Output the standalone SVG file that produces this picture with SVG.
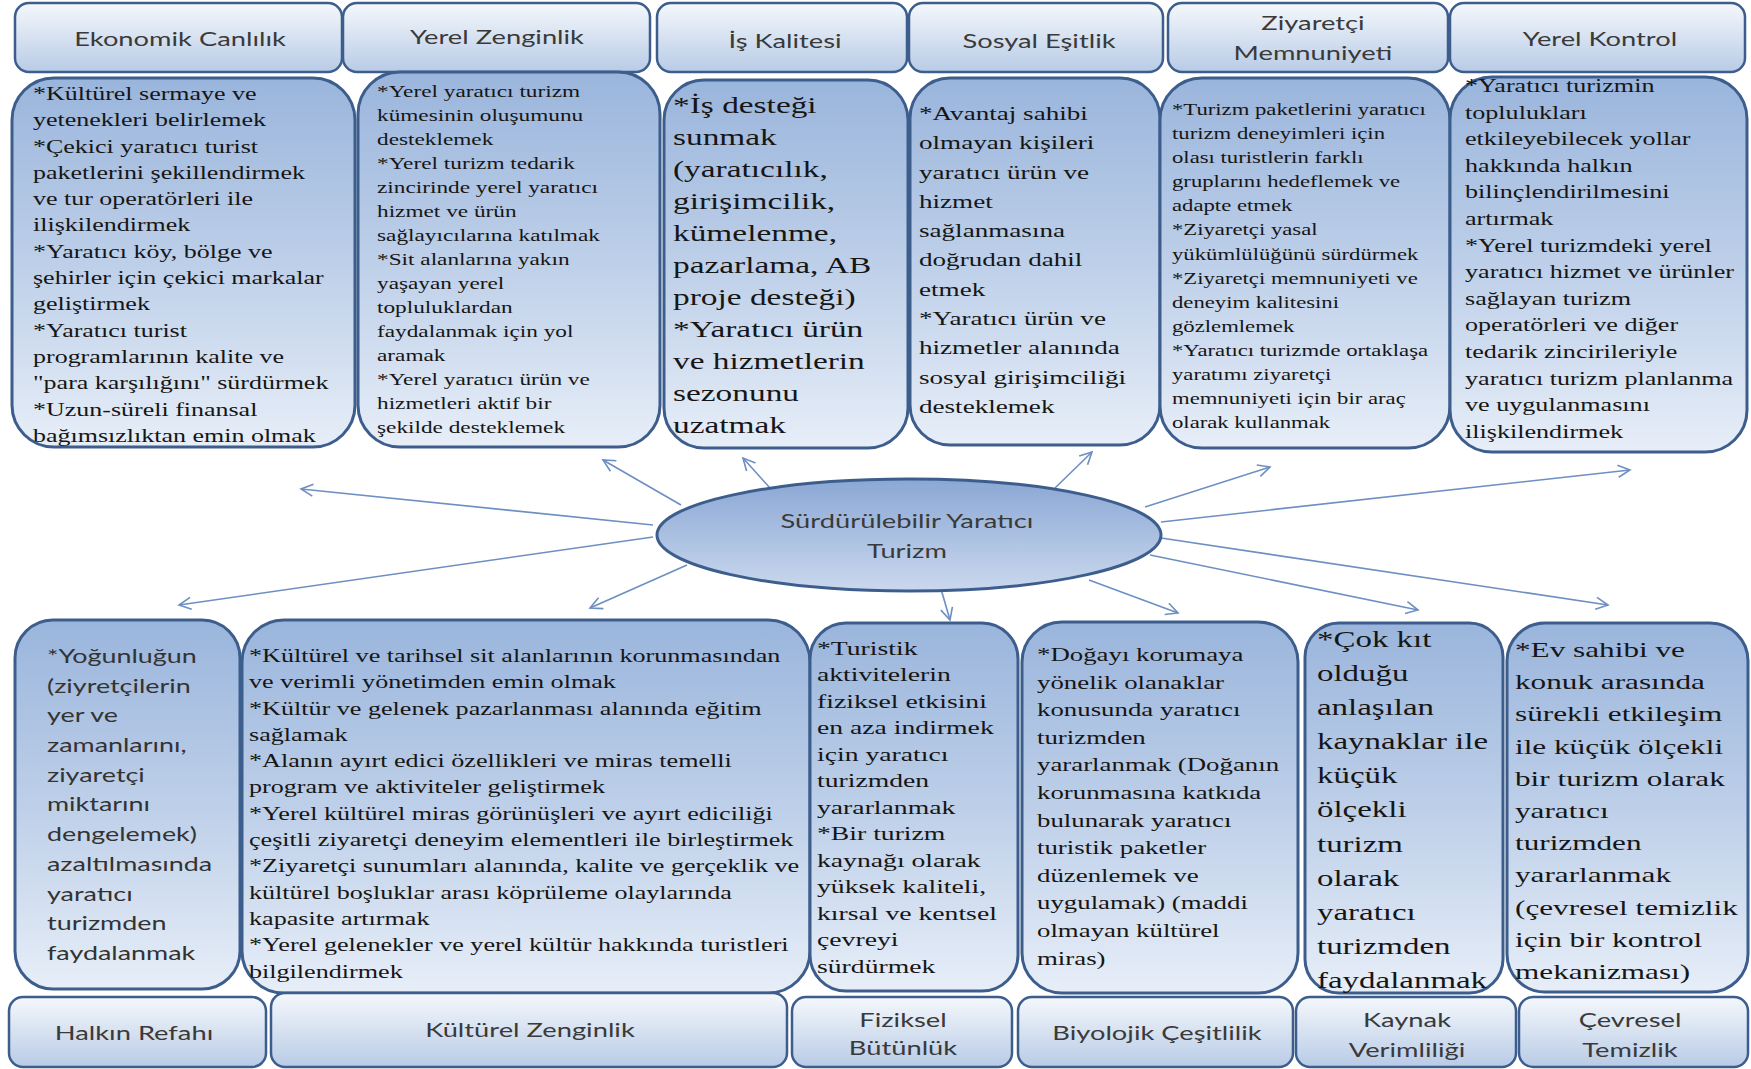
<svg xmlns="http://www.w3.org/2000/svg" width="1751" height="1069" viewBox="0 0 1751 1069">
  <defs>
    <linearGradient id="gBox" x1="0" y1="0" x2="0" y2="1">
      <stop offset="0" stop-color="#9ab5dc"/>
      <stop offset="0.55" stop-color="#c1d2ea"/>
      <stop offset="1" stop-color="#e7eef8"/>
    </linearGradient>
    <linearGradient id="gHead" x1="0" y1="0" x2="0" y2="1">
      <stop offset="0" stop-color="#f5f8fc"/>
      <stop offset="1" stop-color="#b8cbe6"/>
    </linearGradient>
    <linearGradient id="gEll" x1="0" y1="0" x2="0" y2="1">
      <stop offset="0" stop-color="#8aa7d4"/>
      <stop offset="1" stop-color="#cad8ee"/>
    </linearGradient>
    <marker id="arr" markerUnits="userSpaceOnUse" markerWidth="16" markerHeight="16" viewBox="0 0 16 16" refX="14" refY="8" orient="auto">
      <path d="M2,2 L14,8 L2,14" fill="none" stroke="#6d8fc2" stroke-width="1.6"/>
    </marker>
  </defs>
  <style>
    .box { fill: url(#gBox); stroke: #3d5e8c; stroke-width: 3; }
    .head { fill: url(#gHead); stroke: #3d5e8c; stroke-width: 2.5; }
    .ell { fill: url(#gEll); stroke: #3d5e8c; stroke-width: 3; }
    .ht { font-family: Lato, "Liberation Sans", sans-serif; font-size: 19.5px; fill: #3a3a3a; text-anchor: middle; }
    .tb { font-family: "Liberation Serif", "Times New Roman", serif; fill: #161616; }
    .ts { font-family: Lato, "Liberation Sans", sans-serif; fill: #333; }
    .conn line { stroke: #6d8fc2; stroke-width: 1.6; marker-end: url(#arr); }
  </style>
  <rect width="1751" height="1069" fill="#ffffff"/>

  <!-- spokes from the centre ellipse -->
  <g id="connectors" class="conn">
    <line x1="653" y1="525" x2="301" y2="489"/>
    <line x1="681" y1="505" x2="603" y2="460"/>
    <line x1="770" y1="488" x2="743" y2="458"/>
    <line x1="1055" y1="488" x2="1092" y2="452"/>
    <line x1="1145" y1="507" x2="1270" y2="467"/>
    <line x1="1161" y1="522" x2="1630" y2="470"/>
    <line x1="653" y1="537" x2="179" y2="605"/>
    <line x1="687" y1="565" x2="590" y2="608"/>
    <line x1="941" y1="589" x2="950" y2="620"/>
    <line x1="1089" y1="580" x2="1178" y2="613"/>
    <line x1="1150" y1="555" x2="1418" y2="610"/>
    <line x1="1161" y1="538" x2="1608" y2="605"/>
  </g>

  <g id="center">
    <ellipse class="ell" cx="909" cy="535" rx="252" ry="56"/>
    <text class="ht" font-size="20" transform="translate(907,528) scale(1.4,1)"><tspan x="0" y="0">Sürdürülebilir Yaratıcı</tspan><tspan x="0" dy="30">Turizm</tspan></text>
  </g>

  <!-- top row: headers -->
  <g id="h-ekonomik">
    <rect class="head" x="15" y="3" width="327" height="69" rx="14"/>
    <text class="ht" transform="translate(180,46) scale(1.4,1)">Ekonomik Canlılık</text>
  </g>
  <g id="h-yerel-zenginlik">
    <rect class="head" x="343" y="3" width="307" height="69" rx="14"/>
    <text class="ht" transform="translate(497,44) scale(1.4,1)">Yerel Zenginlik</text>
  </g>
  <g id="h-is-kalitesi">
    <rect class="head" x="657" y="3" width="250" height="69" rx="14"/>
    <text class="ht" transform="translate(785,48) scale(1.4,1)">İş Kalitesi</text>
  </g>
  <g id="h-sosyal">
    <rect class="head" x="909" y="3" width="254" height="69" rx="14"/>
    <text class="ht" transform="translate(1039,48) scale(1.4,1)">Sosyal Eşitlik</text>
  </g>
  <g id="h-ziyaretci">
    <rect class="head" x="1168" y="3" width="280" height="69" rx="14"/>
    <text class="ht" transform="translate(1313,30) scale(1.4,1)"><tspan x="0" y="0">Ziyaretçi</tspan><tspan x="0" dy="30">Memnuniyeti</tspan></text>
  </g>
  <g id="h-yerel-kontrol">
    <rect class="head" x="1450" y="3" width="295" height="69" rx="14"/>
    <text class="ht" transform="translate(1600,46) scale(1.4,1)">Yerel Kontrol</text>
  </g>

  <!-- top row: content boxes -->
  <g id="c-ekonomik">
    <rect class="box" x="12" y="78" width="343" height="369" rx="42"/>
    <text class="tb" font-size="18.3" transform="translate(33,100) scale(1.42,1)">
      <tspan x="0" y="0">*Kültürel sermaye ve</tspan>
      <tspan x="0" dy="26.3">yetenekleri belirlemek</tspan>
      <tspan x="0" dy="26.3">*Çekici yaratıcı turist</tspan>
      <tspan x="0" dy="26.3">paketlerini şekillendirmek</tspan>
      <tspan x="0" dy="26.3">ve tur operatörleri ile</tspan>
      <tspan x="0" dy="26.3">ilişkilendirmek</tspan>
      <tspan x="0" dy="26.3">*Yaratıcı köy, bölge ve</tspan>
      <tspan x="0" dy="26.3">şehirler için çekici markalar</tspan>
      <tspan x="0" dy="26.3">geliştirmek</tspan>
      <tspan x="0" dy="26.3">*Yaratıcı turist</tspan>
      <tspan x="0" dy="26.3">programlarının kalite ve</tspan>
      <tspan x="0" dy="26.3">"para karşılığını" sürdürmek</tspan>
      <tspan x="0" dy="26.3">*Uzun-süreli finansal</tspan>
      <tspan x="0" dy="26.3">bağımsızlıktan emin olmak</tspan>
    </text>
  </g>
  <g id="c-yerel-zenginlik">
    <rect class="box" x="358" y="72" width="302" height="375" rx="42"/>
    <text class="tb" font-size="16.4" transform="translate(377,97) scale(1.42,1)">
      <tspan x="0" y="0">*Yerel yaratıcı turizm</tspan>
      <tspan x="0" dy="24">kümesinin oluşumunu</tspan>
      <tspan x="0" dy="24">desteklemek</tspan>
      <tspan x="0" dy="24">*Yerel turizm tedarik</tspan>
      <tspan x="0" dy="24">zincirinde yerel yaratıcı</tspan>
      <tspan x="0" dy="24">hizmet ve ürün</tspan>
      <tspan x="0" dy="24">sağlayıcılarına katılmak</tspan>
      <tspan x="0" dy="24">*Sit alanlarına yakın</tspan>
      <tspan x="0" dy="24">yaşayan yerel</tspan>
      <tspan x="0" dy="24">topluluklardan</tspan>
      <tspan x="0" dy="24">faydalanmak için yol</tspan>
      <tspan x="0" dy="24">aramak</tspan>
      <tspan x="0" dy="24">*Yerel yaratıcı ürün ve</tspan>
      <tspan x="0" dy="24">hizmetleri aktif bir</tspan>
      <tspan x="0" dy="24">şekilde desteklemek</tspan>
    </text>
  </g>
  <g id="c-is-kalitesi">
    <rect class="box" x="664" y="80" width="244" height="368" rx="40"/>
    <text class="tb" font-size="23.5" transform="translate(673,113) scale(1.42,1)">
      <tspan x="0" y="0">*İş desteği</tspan>
      <tspan x="0" dy="32">sunmak</tspan>
      <tspan x="0" dy="32">(yaratıcılık,</tspan>
      <tspan x="0" dy="32">girişimcilik,</tspan>
      <tspan x="0" dy="32">kümelenme,</tspan>
      <tspan x="0" dy="32">pazarlama, AB</tspan>
      <tspan x="0" dy="32">proje desteği)</tspan>
      <tspan x="0" dy="32">*Yaratıcı ürün</tspan>
      <tspan x="0" dy="32">ve hizmetlerin</tspan>
      <tspan x="0" dy="32">sezonunu</tspan>
      <tspan x="0" dy="32">uzatmak</tspan>
    </text>
  </g>
  <g id="c-sosyal">
    <rect class="box" x="910" y="78" width="250" height="367" rx="40"/>
    <text class="tb" font-size="19.1" transform="translate(919,120) scale(1.42,1)">
      <tspan x="0" y="0">*Avantaj sahibi</tspan>
      <tspan x="0" dy="29.3">olmayan kişileri</tspan>
      <tspan x="0" dy="29.3">yaratıcı ürün ve</tspan>
      <tspan x="0" dy="29.3">hizmet</tspan>
      <tspan x="0" dy="29.3">sağlanmasına</tspan>
      <tspan x="0" dy="29.3">doğrudan dahil</tspan>
      <tspan x="0" dy="29.3">etmek</tspan>
      <tspan x="0" dy="29.3">*Yaratıcı ürün ve</tspan>
      <tspan x="0" dy="29.3">hizmetler alanında</tspan>
      <tspan x="0" dy="29.3">sosyal girişimciliği</tspan>
      <tspan x="0" dy="29.3">desteklemek</tspan>
    </text>
  </g>
  <g id="c-ziyaretci">
    <rect class="box" x="1160" y="78" width="290" height="370" rx="42"/>
    <text class="tb" font-size="16" transform="translate(1172,115) scale(1.42,1)">
      <tspan x="0" y="0">*Turizm paketlerini yaratıcı</tspan>
      <tspan x="0" dy="24.1">turizm deneyimleri için</tspan>
      <tspan x="0" dy="24.1">olası turistlerin farklı</tspan>
      <tspan x="0" dy="24.1">gruplarını hedeflemek ve</tspan>
      <tspan x="0" dy="24.1">adapte etmek</tspan>
      <tspan x="0" dy="24.1">*Ziyaretçi yasal</tspan>
      <tspan x="0" dy="24.1">yükümlülüğünü sürdürmek</tspan>
      <tspan x="0" dy="24.1">*Ziyaretçi memnuniyeti ve</tspan>
      <tspan x="0" dy="24.1">deneyim kalitesini</tspan>
      <tspan x="0" dy="24.1">gözlemlemek</tspan>
      <tspan x="0" dy="24.1">*Yaratıcı turizmde ortaklaşa</tspan>
      <tspan x="0" dy="24.1">yaratımı ziyaretçi</tspan>
      <tspan x="0" dy="24.1">memnuniyeti için bir araç</tspan>
      <tspan x="0" dy="24.1">olarak kullanmak</tspan>
    </text>
  </g>
  <g id="c-yerel-kontrol">
    <rect class="box" x="1450" y="77" width="297" height="375" rx="42"/>
    <text class="tb" font-size="18.4" transform="translate(1465,92) scale(1.42,1)">
      <tspan x="0" y="0">*Yaratıcı turizmin</tspan>
      <tspan x="0" dy="26.6">toplulukları</tspan>
      <tspan x="0" dy="26.6">etkileyebilecek yollar</tspan>
      <tspan x="0" dy="26.6">hakkında halkın</tspan>
      <tspan x="0" dy="26.6">bilinçlendirilmesini</tspan>
      <tspan x="0" dy="26.6">artırmak</tspan>
      <tspan x="0" dy="26.6">*Yerel turizmdeki yerel</tspan>
      <tspan x="0" dy="26.6">yaratıcı hizmet ve ürünler</tspan>
      <tspan x="0" dy="26.6">sağlayan turizm</tspan>
      <tspan x="0" dy="26.6">operatörleri ve diğer</tspan>
      <tspan x="0" dy="26.6">tedarik zincirileriyle</tspan>
      <tspan x="0" dy="26.6">yaratıcı turizm planlanma</tspan>
      <tspan x="0" dy="26.6">ve uygulanmasını</tspan>
      <tspan x="0" dy="26.6">ilişkilendirmek</tspan>
    </text>
  </g>

  <!-- bottom row: content boxes -->
  <g id="c-halkin">
    <rect class="box" x="15" y="620" width="225" height="369" rx="38"/>
    <text class="ts" font-size="19.5" transform="translate(47,663) scale(1.38,1)">
      <tspan x="0" y="0">*Yoğunluğun</tspan>
      <tspan x="0" dy="29.7">(ziyretçilerin</tspan>
      <tspan x="0" dy="29.7">yer ve</tspan>
      <tspan x="0" dy="29.7">zamanlarını,</tspan>
      <tspan x="0" dy="29.7">ziyaretçi</tspan>
      <tspan x="0" dy="29.7">miktarını</tspan>
      <tspan x="0" dy="29.7">dengelemek)</tspan>
      <tspan x="0" dy="29.7">azaltılmasında</tspan>
      <tspan x="0" dy="29.7">yaratıcı</tspan>
      <tspan x="0" dy="29.7">turizmden</tspan>
      <tspan x="0" dy="29.7">faydalanmak</tspan>
    </text>
  </g>
  <g id="c-kulturel">
    <rect class="box" x="242" y="620" width="568" height="373" rx="42"/>
    <text class="tb" font-size="18.4" transform="translate(249,662) scale(1.42,1)">
      <tspan x="0" y="0">*Kültürel ve tarihsel sit alanlarının korunmasından</tspan>
      <tspan x="0" dy="26.3">ve verimli yönetimden emin olmak</tspan>
      <tspan x="0" dy="26.3">*Kültür ve gelenek pazarlanması alanında eğitim</tspan>
      <tspan x="0" dy="26.3">sağlamak</tspan>
      <tspan x="0" dy="26.3">*Alanın ayırt edici özellikleri ve miras temelli</tspan>
      <tspan x="0" dy="26.3">program ve aktiviteler geliştirmek</tspan>
      <tspan x="0" dy="26.3">*Yerel kültürel miras görünüşleri ve ayırt ediciliği</tspan>
      <tspan x="0" dy="26.3">çeşitli ziyaretçi deneyim elementleri ile birleştirmek</tspan>
      <tspan x="0" dy="26.3">*Ziyaretçi sunumları alanında, kalite ve gerçeklik ve</tspan>
      <tspan x="0" dy="26.3">kültürel boşluklar arası köprüleme olaylarında</tspan>
      <tspan x="0" dy="26.3">kapasite artırmak</tspan>
      <tspan x="0" dy="26.3">*Yerel gelenekler ve yerel kültür hakkında turistleri</tspan>
      <tspan x="0" dy="26.3">bilgilendirmek</tspan>
    </text>
  </g>
  <g id="c-fiziksel">
    <rect class="box" x="810" y="623" width="208" height="368" rx="36"/>
    <text class="tb" font-size="19.5" transform="translate(817,655) scale(1.42,1)">
      <tspan x="0" y="0">*Turistik</tspan>
      <tspan x="0" dy="26.5">aktivitelerin</tspan>
      <tspan x="0" dy="26.5">fiziksel etkisini</tspan>
      <tspan x="0" dy="26.5">en aza indirmek</tspan>
      <tspan x="0" dy="26.5">için yaratıcı</tspan>
      <tspan x="0" dy="26.5">turizmden</tspan>
      <tspan x="0" dy="26.5">yararlanmak</tspan>
      <tspan x="0" dy="26.5">*Bir turizm</tspan>
      <tspan x="0" dy="26.5">kaynağı olarak</tspan>
      <tspan x="0" dy="26.5">yüksek kaliteli,</tspan>
      <tspan x="0" dy="26.5">kırsal ve kentsel</tspan>
      <tspan x="0" dy="26.5">çevreyi</tspan>
      <tspan x="0" dy="26.5">sürdürmek</tspan>
    </text>
  </g>
  <g id="c-biyolojik">
    <rect class="box" x="1022" y="622" width="276" height="371" rx="40"/>
    <text class="tb" font-size="18.9" transform="translate(1037,661) scale(1.42,1)">
      <tspan x="0" y="0">*Doğayı korumaya</tspan>
      <tspan x="0" dy="27.6">yönelik olanaklar</tspan>
      <tspan x="0" dy="27.6">konusunda yaratıcı</tspan>
      <tspan x="0" dy="27.6">turizmden</tspan>
      <tspan x="0" dy="27.6">yararlanmak (Doğanın</tspan>
      <tspan x="0" dy="27.6">korunmasına katkıda</tspan>
      <tspan x="0" dy="27.6">bulunarak yaratıcı</tspan>
      <tspan x="0" dy="27.6">turistik paketler</tspan>
      <tspan x="0" dy="27.6">düzenlemek ve</tspan>
      <tspan x="0" dy="27.6">uygulamak) (maddi</tspan>
      <tspan x="0" dy="27.6">olmayan kültürel</tspan>
      <tspan x="0" dy="27.6">miras)</tspan>
    </text>
  </g>
  <g id="c-kaynak">
    <rect class="box" x="1305" y="623" width="198" height="370" rx="34"/>
    <text class="tb" font-size="23.2" transform="translate(1317,647) scale(1.42,1)">
      <tspan x="0" y="0">*Çok kıt</tspan>
      <tspan x="0" dy="34.1">olduğu</tspan>
      <tspan x="0" dy="34.1">anlaşılan</tspan>
      <tspan x="0" dy="34.1">kaynaklar ile</tspan>
      <tspan x="0" dy="34.1">küçük</tspan>
      <tspan x="0" dy="34.1">ölçekli</tspan>
      <tspan x="0" dy="34.1">turizm</tspan>
      <tspan x="0" dy="34.1">olarak</tspan>
      <tspan x="0" dy="34.1">yaratıcı</tspan>
      <tspan x="0" dy="34.1">turizmden</tspan>
      <tspan x="0" dy="34.1">faydalanmak</tspan>
    </text>
  </g>
  <g id="c-cevresel">
    <rect class="box" x="1507" y="623" width="241" height="369" rx="38"/>
    <text class="tb" font-size="22" transform="translate(1515,657) scale(1.42,1)">
      <tspan x="0" y="0">*Ev sahibi ve</tspan>
      <tspan x="0" dy="32.2">konuk arasında</tspan>
      <tspan x="0" dy="32.2">sürekli etkileşim</tspan>
      <tspan x="0" dy="32.2">ile küçük ölçekli</tspan>
      <tspan x="0" dy="32.2">bir turizm olarak</tspan>
      <tspan x="0" dy="32.2">yaratıcı</tspan>
      <tspan x="0" dy="32.2">turizmden</tspan>
      <tspan x="0" dy="32.2">yararlanmak</tspan>
      <tspan x="0" dy="32.2">(çevresel temizlik</tspan>
      <tspan x="0" dy="32.2">için bir kontrol</tspan>
      <tspan x="0" dy="32.2">mekanizması)</tspan>
    </text>
  </g>

  <!-- bottom row: headers -->
  <g id="h-halkin">
    <rect class="head" x="9" y="997" width="257" height="70" rx="14"/>
    <text class="ht" transform="translate(134,1040) scale(1.4,1)">Halkın Refahı</text>
  </g>
  <g id="h-kulturel">
    <rect class="head" x="271" y="993" width="516" height="74" rx="14"/>
    <text class="ht" transform="translate(530,1037) scale(1.4,1)">Kültürel Zenginlik</text>
  </g>
  <g id="h-fiziksel">
    <rect class="head" x="792" y="997" width="220" height="70" rx="14"/>
    <text class="ht" transform="translate(903,1027) scale(1.4,1)"><tspan x="0" y="0">Fiziksel</tspan><tspan x="0" dy="28">Bütünlük</tspan></text>
  </g>
  <g id="h-biyolojik">
    <rect class="head" x="1018" y="997" width="275" height="70" rx="14"/>
    <text class="ht" transform="translate(1157,1040) scale(1.4,1)">Biyolojik Çeşitlilik</text>
  </g>
  <g id="h-kaynak">
    <rect class="head" x="1296" y="997" width="220" height="70" rx="14"/>
    <text class="ht" transform="translate(1407,1027) scale(1.4,1)"><tspan x="0" y="0">Kaynak</tspan><tspan x="0" dy="30">Verimliliği</tspan></text>
  </g>
  <g id="h-cevresel">
    <rect class="head" x="1519" y="997" width="229" height="70" rx="14"/>
    <text class="ht" transform="translate(1630,1027) scale(1.4,1)"><tspan x="0" y="0">Çevresel</tspan><tspan x="0" dy="30">Temizlik</tspan></text>
  </g>
</svg>
